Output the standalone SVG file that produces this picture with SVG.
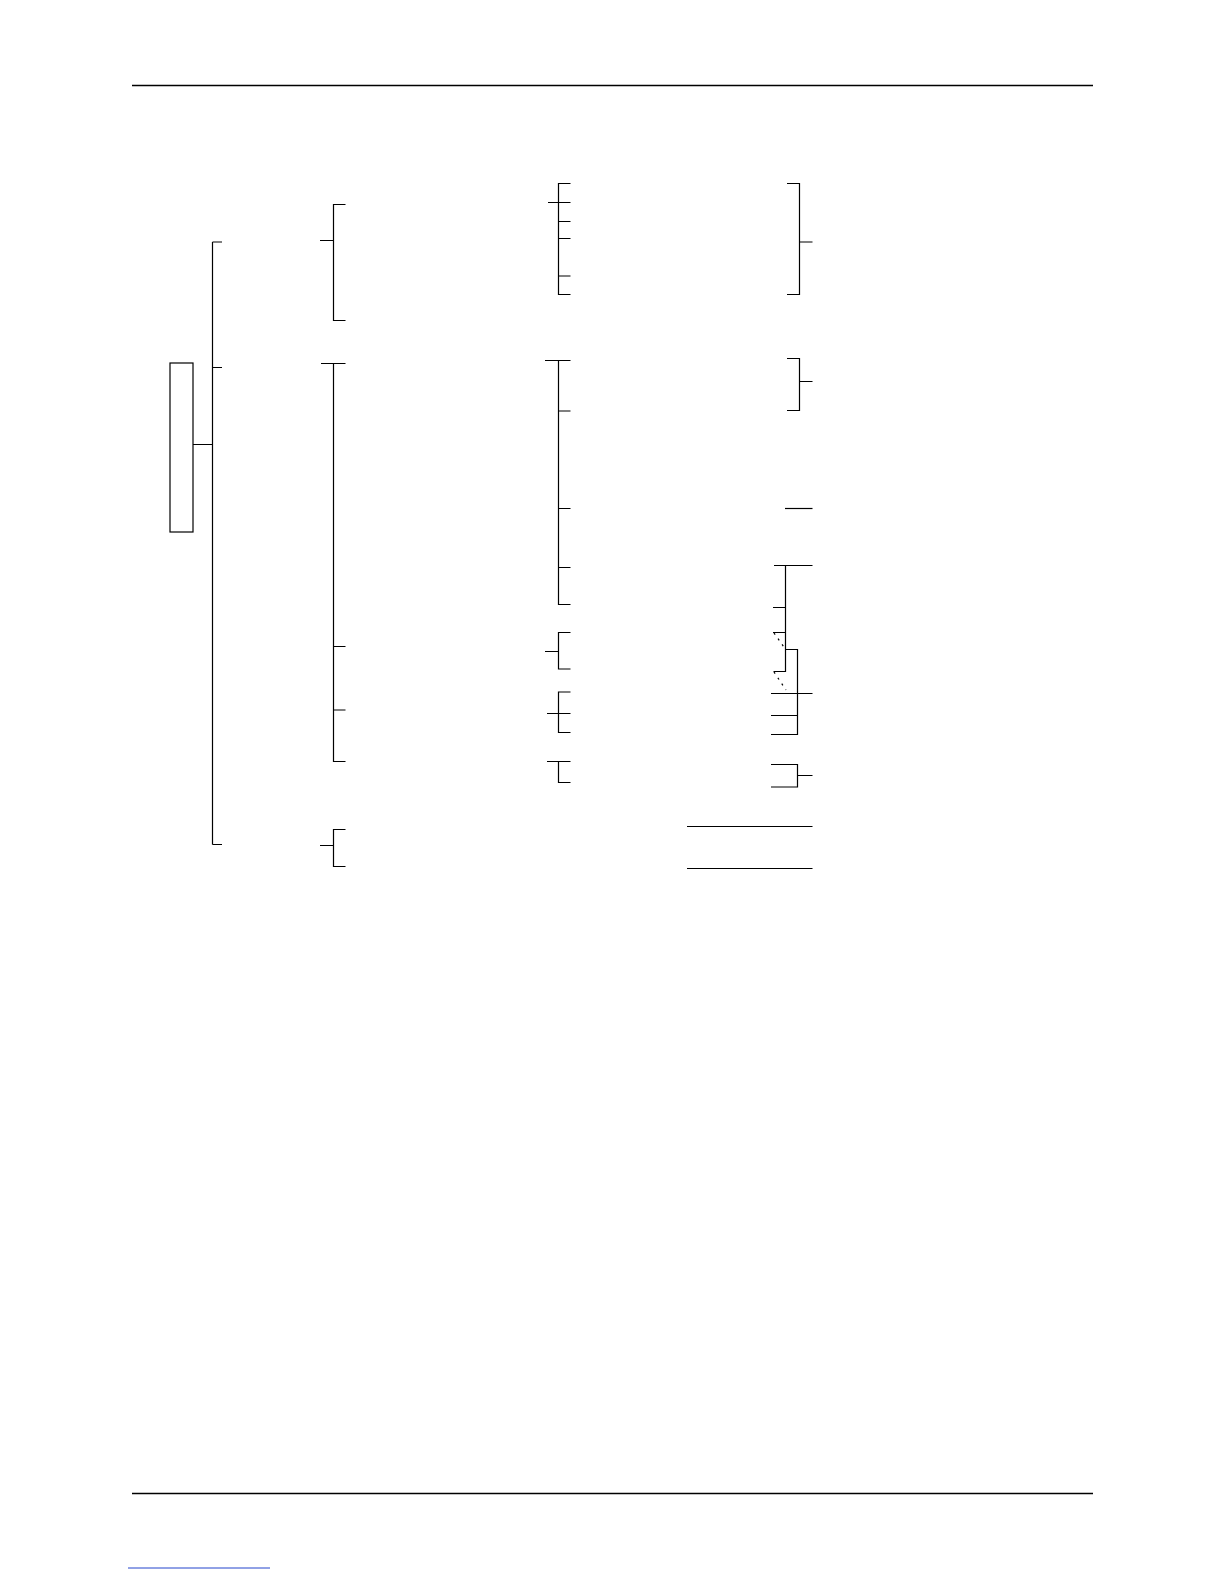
<svg xmlns="http://www.w3.org/2000/svg" width="1224" height="1584" viewBox="0 0 1224 1584">
<style>
.l{stroke:#000;stroke-width:1.2;fill:none}
.h{stroke:#000;stroke-width:1.4;fill:none}
.d{stroke:#000;stroke-width:1.2;fill:none;stroke-dasharray:2,5}
.n{stroke:#000;stroke-width:1.2;fill:#fff}
</style>
<rect width="1224" height="1584" fill="#fff"/>
<g id="page">
<line class="h" x1="132" y1="85.5" x2="1093" y2="85.5"/>
<line class="h" x1="132" y1="1493.5" x2="1093" y2="1493.5"/>
<line x1="128" y1="1568" x2="270" y2="1568" stroke="#2244cc" stroke-width="1"/>
</g>
<g id="root"><rect class="n" x="170" y="363" width="23" height="169"/></g>
<g id="connectors">
<path class="l" d="M193 444.5H213M212.5 242V844.5M212.5 242H222M212.5 367.5H222M212.5 844.5H222"/>
<path class="l" d="M320 240.5H333.5M345.5 204.5H333.5V320.5H345.5"/>
<path class="l" d="M321 363.5H345.5M333.5 363.5V761.5H345.5M333.5 646.5H345.5M333.5 710H345.5"/>
<path class="l" d="M320 845.5H333.5M345.5 829.5H333.5V866.5H345.5"/>
<path class="l" d="M570.5 183.5H558.5V294.5H570.5M548 202.5H570.5M558.5 221.5H570.5M558.5 238.5H570.5M558.5 276H570.5"/>
<path class="l" d="M545 360.5H570.5M558.5 360.5V604.5H570.5M558.5 411H570.5M558.5 508.5H570.5M558.5 567.5H570.5"/>
<path class="l" d="M545 651.5H558.5M570.5 632.5H558.5V669H570.5"/>
<path class="l" d="M570.5 692H558.5V732.5H570.5M547 713.5H570.5"/>
<path class="l" d="M547 761.5H570.5M558.5 761.5V782.5H570.5"/>
<path class="l" d="M787 183.5H799.5V294.5H787M799.5 242H812.5"/>
<path class="l" d="M787 358.5H799.5V410.5H787M799.5 381.5H812.5"/>
<path class="l" d="M785 508.5H812.5"/>
<path class="l" d="M774 565.5H812.5M785.5 565.5V671.5H773.5M773 607.5H785.5M773 632.5H785.5"/>
<path class="l" d="M785.5 649.5H797.5V734.5H771M771 693.5H812.5M771 715.5H797.5"/>
<path class="l" d="M771 764.5H797.5V787H771M797.5 775.5H812.5"/>
<path class="d" d="M774 633L786 650M774 672L786 690"/>
<path class="l" d="M687 826.5H812.5M687 868.5H812.5"/>
</g>
</svg>
